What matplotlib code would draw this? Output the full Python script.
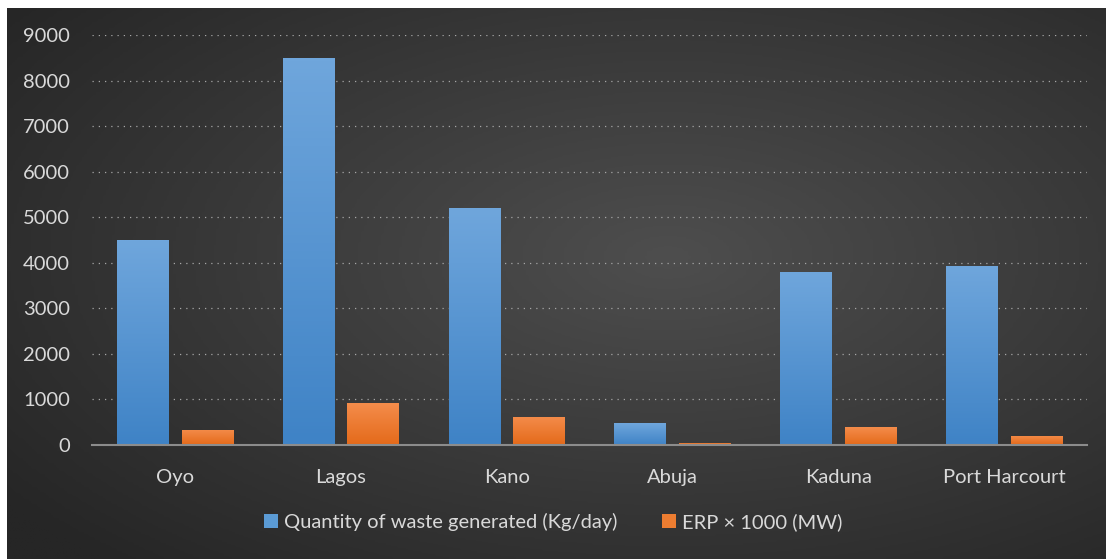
import numpy as np
import matplotlib.pyplot as plt
from matplotlib.colors import LinearSegmentedColormap

cities = ['Oyo', 'Lagos', 'Kano', 'Abuja', 'Kaduna', 'Port Harcourt']
waste = [4500, 8500, 5200, 480, 3800, 3930]
erp = [330, 920, 615, 45, 395, 200]
labels = ['Quantity of waste generated (Kg/day)', 'ERP \u00d7 1000 (MW)']

W, H = 1106, 559
plt.rcParams['font.family'] = ['Lato', 'DejaVu Sans']
txt = '#d9d9d9'

fig = plt.figure(figsize=(W / 100, H / 100), dpi=100)
fig.patch.set_facecolor('white')

# dark radial background
bg = fig.add_axes([7 / W, 0, 1 - 7 / W, 1 - 8 / H])
yy, xx = np.mgrid[0:200, 0:400]
r = np.sqrt(((xx - 240) / 400) ** 2 + ((yy - 90) / 200) ** 2)
r = np.clip(r / 0.75, 0, 1)
bgcm = LinearSegmentedColormap.from_list('bg', ['#4e4e4e', '#3a3a3a', '#262626'])
bg.imshow(r, cmap=bgcm, aspect='auto', extent=[0, 1, 0, 1], origin='upper')
bg.set_axis_off()

ax = fig.add_axes([92 / W, (H - 445) / H, (1087 - 92) / W, (445 - 35) / H])
ax.patch.set_alpha(0)
x = np.arange(len(cities))
bw = 0.31
off = 0.195
b1 = ax.bar(x - off, waste, bw, color='#5b9bd5', label=labels[0], zorder=3)
b2 = ax.bar(x + off, erp, bw, color='#ed7d31', label=labels[1], zorder=3)

# vertical gradient inside bars
blue_cm = LinearSegmentedColormap.from_list('b', ['#3f83c6', '#6fa6dc'])
orng_cm = LinearSegmentedColormap.from_list('o', ['#e46a1a', '#f48c4b'])
grad = np.linspace(0, 1, 100).reshape(-1, 1)
for bars, cm in [(b1, blue_cm), (b2, orng_cm)]:
    for p in bars:
        x0, y0 = p.get_x(), p.get_y()
        im = ax.imshow(grad, cmap=cm, aspect='auto', origin='lower',
                       extent=[x0, x0 + p.get_width(), y0, y0 + p.get_height()], zorder=3.5)
        im.set_clip_path(p)

ax.set_xlim(-0.5, len(cities) - 0.5)
ax.set_ylim(0, 9000)
ax.set_yticks(range(0, 9001, 1000))
ax.set_xticks(x)
ax.set_xticklabels(cities)
ax.yaxis.grid(True, linestyle=(0, (1, 4)), color='#a6a6a6', linewidth=0.9, zorder=1)
ax.set_axisbelow(True)
for s in ['top', 'right', 'left']:
    ax.spines[s].set_visible(False)
ax.spines['bottom'].set_color('#8c8c8c')
ax.spines['bottom'].set_linewidth(1.5)
ax.spines['bottom'].set_zorder(4)
ax.tick_params(axis='both', length=0, colors=txt, labelsize=14.5)
ax.tick_params(axis='x', pad=17)
ax.tick_params(axis='y', pad=16)

leg = fig.legend(handles=[b1, b2], labels=labels, loc='center', bbox_to_anchor=(0.5, (H - 522) / H),
                 ncol=2, frameon=False, fontsize=14.5, handlelength=0.7, handleheight=0.7,
                 handletextpad=0.3, columnspacing=2.2)
for t in leg.get_texts():
    t.set_color(txt)

fig.savefig('out.png', dpi=100, facecolor=fig.get_facecolor())
